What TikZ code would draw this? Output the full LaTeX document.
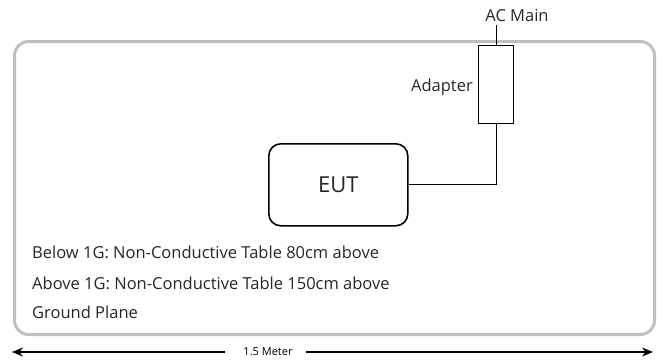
\documentclass[tikz,border=0pt]{standalone}
\usepackage{fontspec}
\setmainfont{Open Sans}
\usetikzlibrary{arrows.meta}
\begin{document}
\begin{tikzpicture}[x=1pt,y=-1pt,
  plane/.style={draw=black!25,line width=3pt,rounded corners=14pt},
  boxline/.style={draw=black,line width=1pt},
  wire/.style={draw=black,line width=0.9pt},
  lbl/.style={inner sep=0pt,font=\fontsize{16.5}{18}\selectfont,text=black!85},
  dim/.style={draw=black,line width=1.6pt,-{Stealth[length=11pt,width=9pt]}}]
\useasboundingbox (0,0) rectangle (663,362);
\node[plane,minimum width=640pt,minimum height=293pt,anchor=north west] (plane) at (13,40) {};
\node[boxline,rectangle,minimum width=35pt,minimum height=78pt,anchor=north west,inner sep=0pt] (adapter) at (478,45) {};
\node[boxline,rounded corners=12pt,minimum width=139pt,minimum height=82pt,anchor=north west,inner sep=0pt,line width=1.6pt] (eut) at (268,143) {};
\node[font=\fontsize{22}{24}\selectfont,text=black!85] (euttext) at (eut.center) {EUT};
\node[lbl,anchor=south] (acmain) at (517,22) {AC Main};
\node[lbl,anchor=east] (adlabel) at (473,87) {Adapter};
\coordinate (bend) at (adapter.south |- eut.east);
\coordinate (actop) at (496,25);
\draw[wire] (actop) -- (adapter.north);
\draw[wire] (adapter.south) -- (bend) -- (eut.east);
\node[lbl,anchor=west] (t1) at (32,252) {Below 1G: Non-Conductive Table 80cm above};
\node[lbl,anchor=west] (t2) at (32,283) {Above 1G: Non-Conductive Table 150cm above};
\node[lbl,anchor=west] (t3) at (32,312) {Ground Plane};
\node[inner sep=0pt,font=\fontsize{11}{12}\selectfont] (meter) at (268,352) {1.5 Meter};
\coordinate (lend) at (12,352);
\coordinate (rend) at (653,352);
\coordinate (lgap) at (225,352);
\coordinate (rgap) at (306,352);
\draw[dim] (lgap) -- (lend);
\draw[dim] (rgap) -- (rend);
\end{tikzpicture}
\end{document}
